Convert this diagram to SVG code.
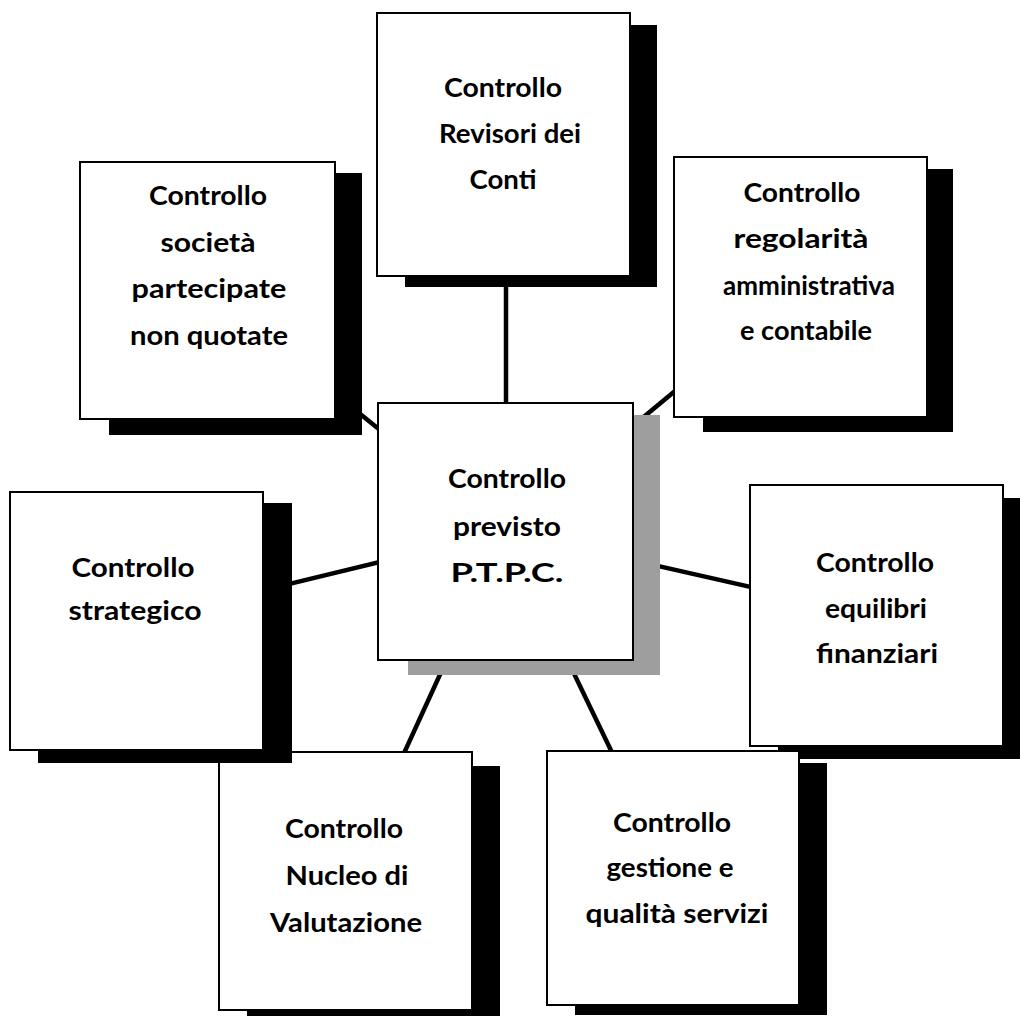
<svg xmlns="http://www.w3.org/2000/svg" width="1020" height="1016" viewBox="0 0 1020 1016">
<style>
.box{fill:#ffffff;stroke:#000000;stroke-width:2}
.sh{fill:#000000}
.shg{fill:#9e9e9e}
.lbl{font-family:"Comic Sans MS","Lato","DejaVu Sans",sans-serif;font-weight:bold;font-size:27px;fill:#000000;text-anchor:middle}
.conn{stroke:#000000;stroke-width:4.5;fill:none;stroke-linecap:butt}
</style>
<rect x="0" y="0" width="1020" height="1016" fill="#ffffff"/>
<g id="connectors">
<line class="conn" x1="506" y1="144" x2="506" y2="531"/>
<line class="conn" x1="207.5" y1="290.5" x2="505.5" y2="531.5"/>
<line class="conn" x1="800.5" y1="287" x2="505.5" y2="531.5"/>
<line class="conn" x1="136.5" y1="621" x2="505.5" y2="531.5"/>
<line class="conn" x1="876.5" y1="615.5" x2="505.5" y2="531.5"/>
<line class="conn" x1="345.5" y1="881" x2="505.5" y2="531.5"/>
<line class="conn" x1="672.5" y1="878" x2="505.5" y2="531.5"/>
</g>
<g id="node-center">
<rect class="shg" x="408" y="415" width="252" height="260"/>
<rect class="box" x="378" y="403" width="255" height="257"/>
<text class="lbl" x="507" y="488" textLength="118" lengthAdjust="spacingAndGlyphs">Controllo</text>
<text class="lbl" x="507" y="536" textLength="108" lengthAdjust="spacingAndGlyphs">previsto</text>
<text class="lbl" x="507" y="582" textLength="113" lengthAdjust="spacingAndGlyphs">P.T.P.C.</text>
</g>
<g id="node-revisori">
<rect class="sh" x="405" y="25" width="252" height="262"/>
<rect class="box" x="377" y="13" width="253" height="263"/>
<text class="lbl" x="503" y="97" textLength="118" lengthAdjust="spacingAndGlyphs">Controllo</text>
<text class="lbl" x="510" y="143" textLength="142" lengthAdjust="spacingAndGlyphs">Revisori dei</text>
<text class="lbl" x="503" y="189" textLength="67" lengthAdjust="spacingAndGlyphs">Conti</text>
</g>
<g id="node-societa">
<rect class="sh" x="109" y="173" width="253" height="262"/>
<rect class="box" x="80" y="162" width="255" height="257"/>
<text class="lbl" x="208" y="205" textLength="118" lengthAdjust="spacingAndGlyphs">Controllo</text>
<text class="lbl" x="208" y="252" textLength="95" lengthAdjust="spacingAndGlyphs">società</text>
<text class="lbl" x="209" y="298" textLength="155" lengthAdjust="spacingAndGlyphs">partecipate</text>
<text class="lbl" x="209" y="345" textLength="158" lengthAdjust="spacingAndGlyphs">non quotate</text>
</g>
<g id="node-regolarita">
<rect class="sh" x="703" y="169" width="250" height="263"/>
<rect class="box" x="674" y="157" width="253" height="260"/>
<text class="lbl" x="802" y="202" textLength="117" lengthAdjust="spacingAndGlyphs">Controllo</text>
<text class="lbl" x="801" y="248" textLength="135" lengthAdjust="spacingAndGlyphs">regolarità</text>
<text class="lbl" x="809" y="295" textLength="172" lengthAdjust="spacingAndGlyphs">amministrativa</text>
<text class="lbl" x="806" y="340" textLength="132" lengthAdjust="spacingAndGlyphs">e contabile</text>
</g>
<g id="node-finanziari">
<rect class="sh" x="778" y="498" width="250" height="261"/>
<rect class="box" x="750" y="485" width="253" height="261"/>
<text class="lbl" x="875" y="572" textLength="118" lengthAdjust="spacingAndGlyphs">Controllo</text>
<text class="lbl" x="876" y="618" textLength="102" lengthAdjust="spacingAndGlyphs">equilibri</text>
<text class="lbl" x="877" y="663" textLength="122" lengthAdjust="spacingAndGlyphs">finanziari</text>
</g>
<g id="node-gestione">
<rect class="sh" x="575" y="763" width="252" height="252"/>
<rect class="box" x="547" y="751" width="252" height="254"/>
<text class="lbl" x="672" y="832" textLength="118" lengthAdjust="spacingAndGlyphs">Controllo</text>
<text class="lbl" x="670" y="877" textLength="127" lengthAdjust="spacingAndGlyphs">gestione e</text>
<text class="lbl" x="677" y="923" textLength="183" lengthAdjust="spacingAndGlyphs">qualità servizi</text>
</g>
<g id="node-nucleo">
<rect class="sh" x="247" y="766" width="253" height="260"/>
<rect class="box" x="219" y="752" width="253" height="258"/>
<text class="lbl" x="344" y="838" textLength="118" lengthAdjust="spacingAndGlyphs">Controllo</text>
<text class="lbl" x="347" y="885" textLength="123" lengthAdjust="spacingAndGlyphs">Nucleo di</text>
<text class="lbl" x="346" y="932" textLength="152" lengthAdjust="spacingAndGlyphs">Valutazione</text>
</g>
<g id="node-strategico">
<rect class="sh" x="38" y="503" width="254" height="260"/>
<rect class="box" x="10" y="492" width="253" height="258"/>
<text class="lbl" x="133" y="577" textLength="123" lengthAdjust="spacingAndGlyphs">Controllo</text>
<text class="lbl" x="135" y="620" textLength="133" lengthAdjust="spacingAndGlyphs">strategico</text>
</g>
</svg>
